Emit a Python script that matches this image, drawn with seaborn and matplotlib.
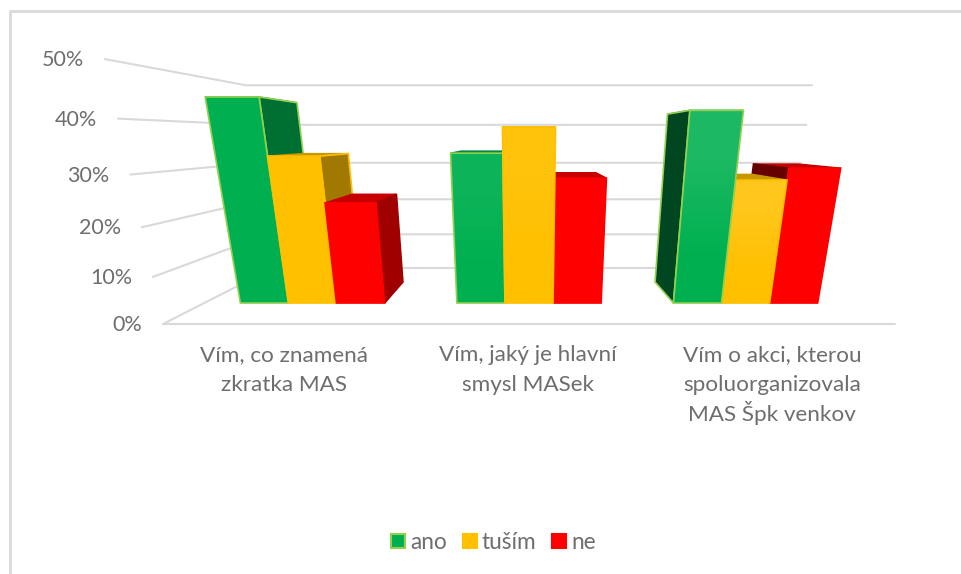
import matplotlib
matplotlib.use("Agg")
import matplotlib.pyplot as plt
from matplotlib.patches import Polygon
from matplotlib.colors import to_rgb
import pandas as pd
import seaborn as sns

# data
categories = ["Vím, co znamená\nzkratka MAS",
              "Vím, jaký je hlavní\nsmysl MASek",
              "Vím o akci, kterou\nspoluorganizovala\nMAS Špk venkov"]
series = ["ano", "tuším", "ne"]
ano = [44.7, 33.5, 42.1]
tusim = [32.9, 38.8, 27.9]
ne = [23.0, 28.3, 30.4]
y_ticks = [0, 10, 20, 30, 40, 50]

colors = {"ano": "#00B050", "tuším": "#FFC000", "ne": "#FF0000"}
edges = {"ano": "#92D050", "tuším": "#FFC000", "ne": "#FF0000"}
GRID = "#D9D9D9"
TEXT = "#6E6E6E"

# perspective of the 3D box, result in pixels
VANISH_X = 529
BAND = 244
BAR_FRONT, BAR_BACK = 0.295, 0.676
# how much lighter the top of a front face gets, per category
GLOW = [0, 0.05, 0.11]


def project(x, value, depth):
    """category position, value in %, depth 0-1 -> picture pixels"""
    v = value / 10
    w = 1 - 0.0274 * v + 0.43 * depth
    px = VANISH_X + (x - 1) * BAND / w
    py = (324 - 54.6 * v + 59.2 * depth) / w
    return px, py


def shade(color, k):
    r, g, b = to_rgb(color)
    return (r * k, g * k, b * k)


def lighten(color, k):
    r, g, b = to_rgb(color)
    return (r + (1 - r) * k, g + (1 - g) * k, b + (1 - b) * k)


def draw_bar(ax, left, right, height, name, z):
    base = colors[name]
    top = shade(base, 0.78)

    # top face
    ax.add_patch(Polygon([project(left, height, BAR_FRONT), project(right, height, BAR_FRONT),
                          project(right, height, BAR_BACK), project(left, height, BAR_BACK)],
                         facecolor=top, edgecolor=top, linewidth=1.0, zorder=z))
    # side face, only the one turned to the middle of the chart
    side_x, k = None, 1
    if project(right, 0, 0)[0] < VANISH_X:
        side_x, k = right, 0.63
    elif project(left, 0, 0)[0] > VANISH_X:
        side_x, k = left, 0.4
    if side_x is not None:
        side_edge = shade(base, k) if name == "ne" else edges[name]
        ax.add_patch(Polygon([project(side_x, 0, BAR_FRONT), project(side_x, height, BAR_FRONT),
                              project(side_x, height, BAR_BACK), project(side_x, 0, BAR_BACK)],
                             facecolor=shade(base, k), edgecolor=side_edge, linewidth=1.2, zorder=z))
    # front face
    pts = [project(left, 0, BAR_FRONT), project(right, 0, BAR_FRONT),
           project(right, height, BAR_FRONT), project(left, height, BAR_FRONT)]
    front = Polygon(pts, facecolor=base, edgecolor="none", zorder=z + 0.1)
    ax.add_patch(front)
    glow = GLOW[round((left + right) / 2)]
    if glow and name != "ne":
        xs = [p[0] for p in pts]
        ys = [p[1] for p in pts]
        im = ax.imshow([[lighten(base, glow)], [to_rgb(base)]], extent=(min(xs), max(xs), max(ys), min(ys)),
                       aspect="auto", interpolation="bilinear", zorder=z + 0.2)
        im.set_clip_path(front)
    ax.add_patch(Polygon(pts, fill=False, edgecolor=edges[name], linewidth=1.2, zorder=z + 0.3))


sns.set_theme(style="white")
plt.rcParams["font.family"] = ["Lato", "DejaVu Sans"]

df = pd.DataFrame({
    "category": categories * 3,
    "series": [s for s in series for _ in categories],
    "value": ano + tusim + ne,
})

fig = plt.figure(figsize=(9.61, 5.74), dpi=100)
ax = fig.add_axes([0, 0, 1, 1])

# seaborn works out the dodged bars, they get redrawn in perspective below
sns.barplot(data=df, x="category", y="value", hue="series", hue_order=series,
            palette=colors, saturation=1, width=0.666, ax=ax)
handles, labels = ax.get_legend_handles_labels()
bars = []
for name, container in zip(series, list(ax.containers)):
    for patch in container:
        bars.append((patch.get_x(), patch.get_x() + patch.get_width(), patch.get_height(), name))
    container.remove()
ax.get_legend().remove()

ax.set_xlim(0, 961)
ax.set_ylim(574, 0)
ax.autoscale(False)
ax.set_xticks([])
ax.set_yticks([])
ax.set_xlabel("")
ax.set_ylabel("")
ax.axis("off")

# chart frame
ax.plot([9.5, 9.5, 961], [574, 11, 11], color="#DCDCDC", lw=2.2, solid_capstyle="butt", zorder=0)

# back wall and left wall grid
for t in y_ticks:
    front = project(-0.5, t, 0)
    corner = project(-0.5, t, 1)
    end = project(2.5, t, 1)
    ax.plot([front[0], corner[0], end[0]], [front[1], corner[1], end[1]], color=GRID, lw=1.5, zorder=1)
    ax.text(front[0] - 20.5, front[1] + 1, f"{t}%", ha="right", va="center", color=TEXT, fontsize=15.5)
floor_l, floor_r = project(-0.5, 0, 0), project(2.5, 0, 0)
ax.plot([floor_l[0], floor_r[0]], [floor_l[1], floor_r[1]], color=GRID, lw=1.5, zorder=1)

# outer bars first so the ones near the middle cover their side faces
ordered = sorted(bars, key=lambda b: -abs((b[0] + b[1]) / 2 - 1))
for i, (left, right, height, name) in enumerate(ordered):
    draw_bar(ax, left, right, height, name, 2 + i)

# one text per line, matplotlib spaces lines unevenly around the Š
for i, label in enumerate(categories):
    px = project(i, 0, 0)[0] - 1
    for j, line in enumerate(label.split("\n")):
        ax.text(px, 361 + 30 * j, line, ha="center", va="baseline", color=TEXT, fontsize=16.2)

for h, name in zip(handles, series):
    h.set_edgecolor(edges[name])
    h.set_linewidth(1.5)
ax.legend(handles, labels, loc="center", bbox_to_anchor=(493.5 / 961, 1 - 542.5 / 574), ncol=3,
          frameon=False, fontsize=16.3, labelcolor=TEXT, handlelength=0.62, handleheight=0.62,
          handletextpad=0.2, columnspacing=0.72)

plt.savefig("out.png", dpi=100)
